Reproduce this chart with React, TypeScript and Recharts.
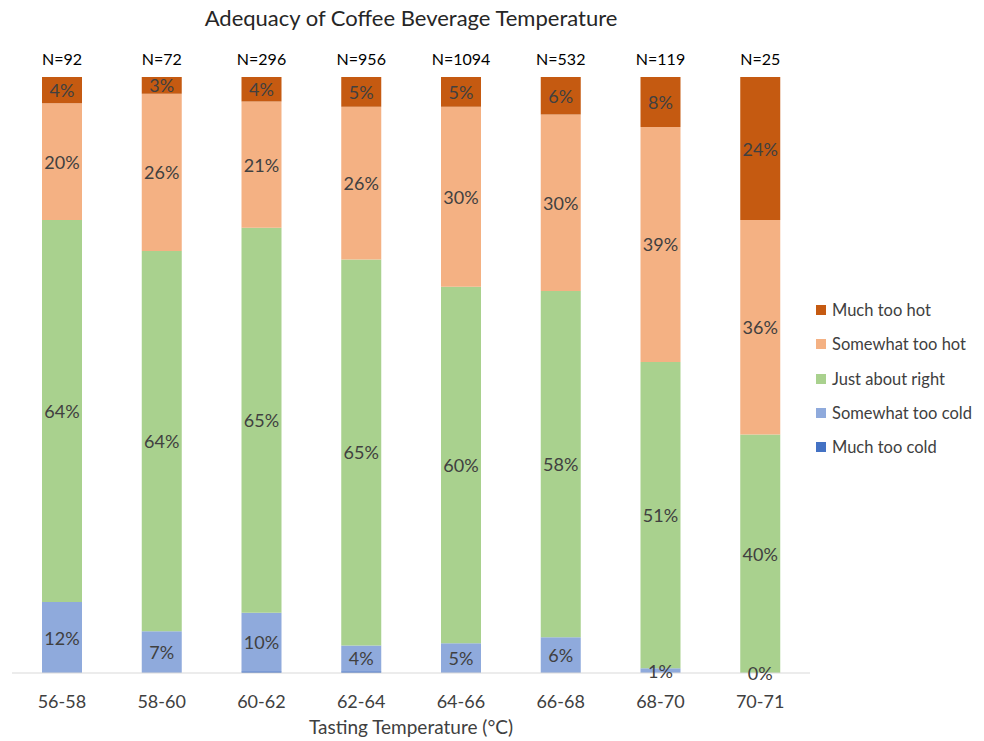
import React from "react";
import { BarChart, Bar, XAxis, YAxis, LabelList } from "recharts";

const categories = ["56-58", "58-60", "60-62", "62-64", "64-66", "66-68", "68-70", "70-71"];
const nCounts = [92, 72, 296, 956, 1094, 532, 119, 25];
// shares of responses per temperature band, in percent
const muchTooCold = [0, 0, 0.3, 0.3, 0, 0, 0, 0];
const somewhatTooCold = [11.9, 7.0, 9.8, 4.3, 5.0, 6.0, 0.8, 0];
const justAboutRight = [64.1, 63.8, 64.6, 64.8, 59.8, 58.1, 51.4, 40];
const somewhatTooHot = [19.6, 26.4, 21.2, 25.6, 30.2, 29.6, 39.4, 36];
const muchTooHot = [4.4, 2.8, 4.1, 5.0, 5.0, 6.3, 8.4, 24];

const series = [
  { key: "muchTooCold", name: "Much too cold", color: "#4472C4" },
  { key: "somewhatTooCold", name: "Somewhat too cold", color: "#8FAADC" },
  { key: "justAboutRight", name: "Just about right", color: "#A9D18E" },
  { key: "somewhatTooHot", name: "Somewhat too hot", color: "#F4B183" },
  { key: "muchTooHot", name: "Much too hot", color: "#C55A11" },
];

const data = categories.map((cat, i) => ({
  cat,
  n: "N=" + nCounts[i],
  muchTooCold: muchTooCold[i],
  somewhatTooCold: somewhatTooCold[i],
  justAboutRight: justAboutRight[i],
  somewhatTooHot: somewhatTooHot[i],
  muchTooHot: muchTooHot[i],
}));

const FONT = "Lato, 'Liberation Sans', sans-serif";

const pctText = (cx: number, cy: number, v: number, key: string) => (
  <text
    key={key}
    x={cx}
    y={cy}
    textAnchor="middle"
    dominantBaseline="central"
    fontSize={18}
    fill="#404040"
    fontFamily={FONT}
  >
    {Math.round(v) + "%"}
  </text>
);

// centred percentage label
const PctLabel = (props: any) => {
  const { x, y, width, height, value } = props;
  if (typeof value !== "number") return null;
  return pctText(Number(x) + Number(width) / 2, Number(y) + Number(height) / 2, value, "c");
};

// "Just about right" label; also carries the label of an empty
// "Somewhat too cold" segment, which Recharts does not label itself
const RightLabel = (props: any) => {
  const { x, y, width, height, value, index } = props;
  if (typeof value !== "number") return null;
  const cx = Number(x) + Number(width) / 2;
  const cold = somewhatTooCold[index];
  return (
    <g>
      {pctText(cx, Number(y) + Number(height) / 2, value, "r")}
      {cold === 0 && pctText(cx, Number(y) + Number(height), cold, "z")}
    </g>
  );
};

const LegendBox = () => (
  <div
    style={{
      position: "absolute",
      left: 816,
      top: 293,
      fontFamily: FONT,
      fontSize: 16.5,
      color: "#404040",
    }}
  >
    {[...series].reverse().map((s) => (
      <div key={s.key} style={{ display: "flex", alignItems: "center", height: 34.3, whiteSpace: "nowrap" }}>
        <span style={{ width: 10, height: 10, background: s.color, marginRight: 6, display: "inline-block" }} />
        {s.name}
      </div>
    ))}
  </div>
);

export default function App() {
  return (
    <div style={{ position: "absolute", left: 0, top: 0, width: 984, height: 741, background: "#fff" }}>
      <div
        style={{
          position: "absolute",
          top: 4,
          left: 12,
          width: 798,
          textAlign: "center",
          fontFamily: FONT,
          fontSize: 22,
          color: "#262626",
        }}
      >
        Adequacy of Coffee Beverage Temperature
      </div>
      <BarChart
        width={984}
        height={741}
        data={data}
        margin={{ top: 77, right: 174, left: 12, bottom: 0 }}
        barSize={40}
      >
        <XAxis
          dataKey="cat"
          height={68}
          tickLine={false}
          axisLine={{ stroke: "#D9D9D9" }}
          tick={{ fontSize: 18, fill: "#404040", fontFamily: FONT }}
          tickMargin={16}
          label={{
            value: "Tasting Temperature (°C)",
            position: "insideBottom",
            offset: 7,
            style: { fontSize: 19, fill: "#404040", fontFamily: FONT },
          }}
        />
        <YAxis hide domain={[0, 100]} />
        {series.map((s) => (
          <Bar key={s.key} dataKey={s.key} name={s.name} stackId="a" fill={s.color} isAnimationActive={false}>
            {(s.key === "somewhatTooCold" || s.key === "somewhatTooHot" || s.key === "muchTooHot") && (
              <LabelList dataKey={s.key} content={PctLabel} />
            )}
            {s.key === "justAboutRight" && <LabelList dataKey={s.key} content={RightLabel} />}
            {s.key === "muchTooHot" && (
              <LabelList
                dataKey="n"
                position="top"
                offset={12}
                style={{ fontSize: 16, fill: "#000", fontFamily: FONT }}
              />
            )}
          </Bar>
        ))}
      </BarChart>
      <LegendBox />
    </div>
  );
}
